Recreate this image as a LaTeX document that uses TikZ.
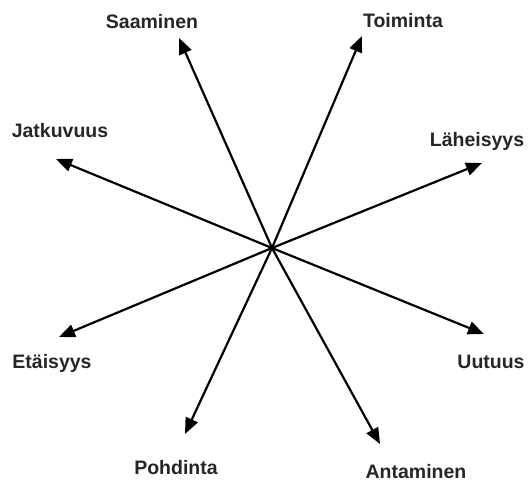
\documentclass[tikz,border=0pt]{standalone}
\usepackage{fontspec}
\setmainfont{Liberation Sans}
\usetikzlibrary{arrows.meta}
\begin{document}
\begin{tikzpicture}[x=1pt,y=-1pt,
  lbl/.style={font=\fontsize{19.5}{22}\selectfont\bfseries, text=black!85, inner sep=0pt},
  ray/.style={line width=2.2pt, -{Triangle[length=16pt,width=13pt]}}]
\useasboundingbox (0,0) rectangle (530,490);
\coordinate (c) at (272,248);
\node[lbl] (saa) at (152,22) {Saaminen};
\node[lbl] (toi) at (403,21) {Toiminta};
\node[lbl] (jat) at (60,131) {Jatkuvuus};
\node[lbl] (lah) at (477,141) {Läheisyys};
\node[lbl] (eta) at (52,363) {Etäisyys};
\node[lbl] (uut) at (491,362) {Uutuus};
\node[lbl] (poh) at (176,468) {Pohdinta};
\node[lbl] (ant) at (416,472) {Antaminen};
\coordinate (tsaa) at (179,38);
\coordinate (ttoi) at (362,36);
\coordinate (tjat) at (56,159);
\coordinate (tlah) at (482,163);
\coordinate (teta) at (59,337);
\coordinate (tuut) at (484,334);
\coordinate (tpoh) at (185,434);
\coordinate (tant) at (380,444);
\foreach \t in {tsaa,ttoi,tjat,tlah,teta,tuut,tpoh,tant}
  \draw[ray] (c) -- (\t);
\end{tikzpicture}
\end{document}
